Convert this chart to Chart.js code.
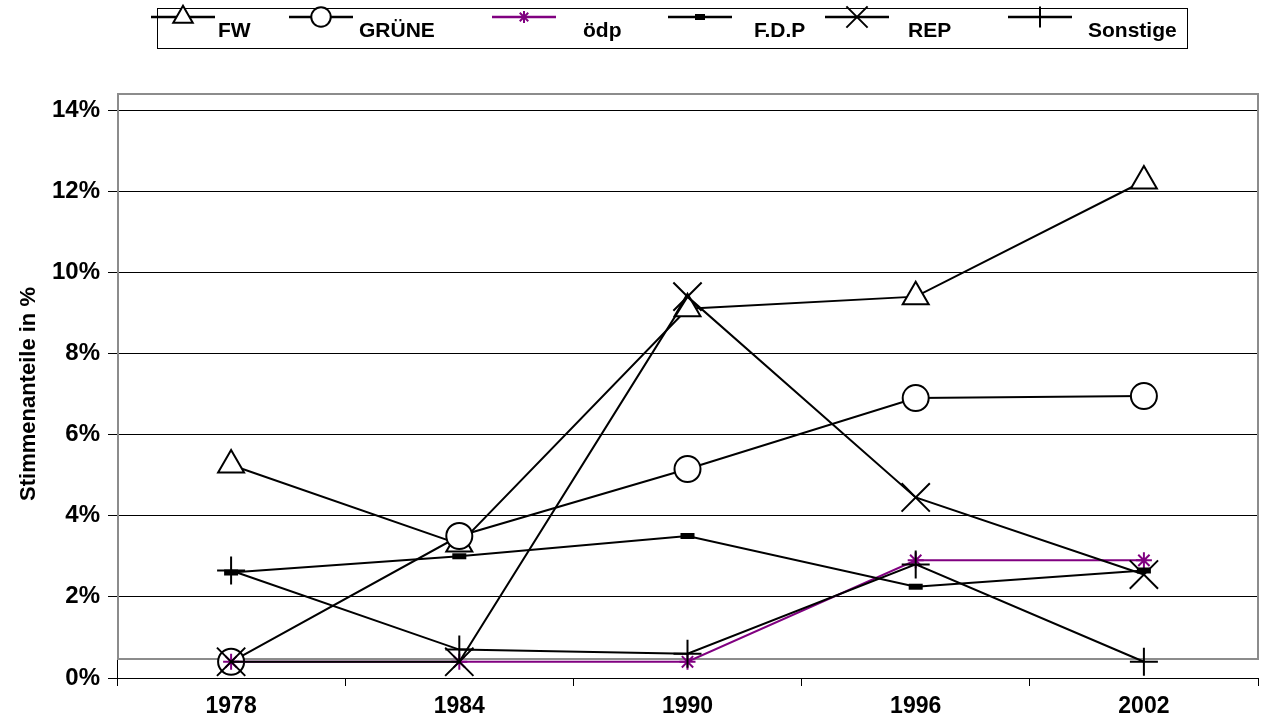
<!DOCTYPE html>
<html>
<head>
<meta charset="utf-8">
<script src="https://cdn.jsdelivr.net/npm/chart.js@4.4.1/dist/chart.umd.min.js"></script>
<style>
  html, body { margin: 0; padding: 0; background: #fff; overflow: hidden; }
  #wrap { width: 1265px; height: 726px; }
  canvas { display: block; }
</style>
</head>
<body>
<div id="wrap"><canvas id="chart" width="1265" height="726"></canvas></div>
<script>
// values in percent
const years = ["1978", "1984", "1990", "1996", "2002"];
const fw = [5.25, 3.3, 9.1, 9.4, 12.25];
const gruene = [0.4, 3.5, 5.15, 6.9, 6.95];
const oedp = [0.4, 0.4, 0.4, 2.9, 2.9];
const fdp = [2.6, 3.0, 3.5, 2.25, 2.65];
const rep = [0.4, 0.4, 9.4, 4.45, 2.55];
const sonstige = [2.65, 0.7, 0.6, 2.8, 0.4];
const yTicks = [0, 2, 4, 6, 8, 10, 12, 14];

const FONT = "'Liberation Sans', Arial, sans-serif";

function series(label, data, color, style, radius, order) {
  return {
    label: label,
    data: data,
    borderColor: color,
    borderWidth: 2,
    pointStyle: style,
    pointRadius: radius,
    pointHoverRadius: radius,
    pointBackgroundColor: "#fff",
    pointBorderColor: color,
    pointBorderWidth: style === "line" ? 6 : 2,
    tension: 0,
    clip: false,
    order: order,
  };
}

// gray plot-area frame like the old office chart
const framePlugin = {
  id: "frame",
  beforeDatasetsDraw(chart) {
    const a = chart.chartArea;
    const ctx = chart.ctx;
    ctx.save();
    ctx.strokeStyle = "#8c8c8c";
    ctx.lineWidth = 2;
    ctx.strokeRect(a.left + 1, a.top - 16, a.right - a.left - 1, a.bottom - a.top - 3);
    ctx.restore();
  },
};

// legend box on top, line sample with marker, text set a bit lower
const legendPlugin = {
  id: "boxLegend",
  afterDraw(chart) {
    const ctx = chart.ctx;
    const markX = [183, 321, 524, 700, 857, 1040];
    const textX = [218, 359, 583, 754, 908, 1088];
    ctx.save();
    ctx.strokeStyle = "#000";
    ctx.lineWidth = 1;
    ctx.strokeRect(157.5, 8.5, 1030, 40);
    chart.data.datasets.forEach((ds, i) => {
      const x = markX[i];
      const y = 17;
      ctx.strokeStyle = ds.borderColor;
      ctx.lineWidth = 2.5;
      ctx.beginPath();
      ctx.moveTo(x - 32, y);
      ctx.lineTo(x + 32, y);
      ctx.stroke();
      ctx.fillStyle = "#fff";
      ctx.strokeStyle = ds.pointBorderColor;
      ctx.lineWidth = ds.pointBorderWidth;
      Chart.helpers.drawPoint(ctx, {
        pointStyle: ds.pointStyle,
        radius: ds.pointStyle === "line" ? 5 : ds.pointRadius * 0.75,
        rotation: 0,
        borderWidth: ds.pointBorderWidth,
      }, x, y);
      ctx.fillStyle = "#000";
      ctx.font = "bold 21px " + FONT;
      ctx.textAlign = "left";
      ctx.textBaseline = "middle";
      ctx.fillText(ds.label, textX[i], 31);
    });
    ctx.restore();
  },
};

new Chart(document.getElementById("chart"), {
  type: "line",
  data: {
    labels: years,
    datasets: [
      series("FW", fw, "#000", "triangle", 15, 6),
      series("GRÜNE", gruene, "#000", "circle", 13, 5),
      series("ödp", oedp, "#800080", "star", 8, 4),
      series("F.D.P", fdp, "#000", "line", 7, 3),
      series("REP", rep, "#000", "crossRot", 20, 2),
      series("Sonstige", sonstige, "#000", "cross", 14, 1),
    ],
  },
  options: {
    responsive: false,
    animation: false,
    devicePixelRatio: 1,
    layout: { autoPadding: false, padding: { top: 110, right: 7, left: 0, bottom: 0 } },
    plugins: {
      legend: { display: false },
      tooltip: { enabled: false },
    },
    scales: {
      x: {
        offset: true,
        afterFit: (s) => {
          s.height = 48;
          s.paddingLeft = 0;
          s.paddingRight = 0;
        },
        grid: {
          offset: true,
          drawOnChartArea: false,
          color: "#000",
          tickLength: 8,
        },
        border: { color: "#000", width: 1 },
        ticks: {
          color: "#000",
          padding: 7,
          font: { family: FONT, size: 23, weight: "bold" },
        },
      },
      y: {
        min: 0,
        max: 14,
        afterFit: (s) => { s.width = 117; },
        afterBuildTicks: (s) => { s.ticks = yTicks.map((v) => ({ value: v })); },
        grid: { color: "#000", lineWidth: 1, tickLength: 9 },
        border: { color: "#000", width: 1 },
        ticks: {
          color: "#000",
          padding: 8,
          font: { family: FONT, size: 24, weight: "bold" },
          callback: (v) => v + "%",
        },
        title: {
          display: true,
          text: "Stimmenanteile in %",
          color: "#000",
          padding: { top: 16, bottom: 0 },
          font: { family: FONT, size: 22, weight: "bold" },
        },
      },
    },
  },
  plugins: [framePlugin, legendPlugin],
});
</script>
</body>
</html>
